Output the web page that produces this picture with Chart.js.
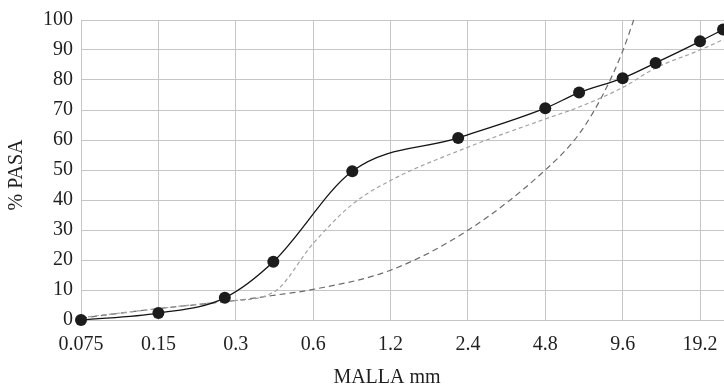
<!DOCTYPE html>
<html>
<head>
<meta charset="utf-8">
<script src="https://cdn.jsdelivr.net/npm/chart.js@4"></script>
<style>
    html, body { margin: 0; padding: 0; background: #fff; overflow: hidden; }
</style>
</head>
<body>
<canvas id="chart" width="724" height="390"></canvas>
<script>
// sieve sizes shown on the x axis (mm)
const sieveTicks = [0.075, 0.15, 0.3, 0.6, 1.2, 2.4, 4.8, 9.6, 19.2];
const sieveLabels = ['0.075', '0.15', '0.3', '0.6', '1.2', '2.4', '4.8', '9.6', '19.2'];

// measured grading (solid line with dots)
const sampleX = [0.075, 0.15, 0.272, 0.42, 0.852, 2.2, 4.8, 6.5, 9.6, 12.9, 19.2, 23.6];
const sampleY = [0, 2.3, 7.4, 19.4, 49.6, 60.7, 70.6, 75.8, 80.6, 85.7, 92.9, 96.8];

// light dashed curve
const upperX = [0.075, 0.15, 0.27, 0.42, 0.6, 0.85, 1.2, 2.4, 4.8, 6.5, 9.6, 12.9, 19.2, 23.8];
const upperY = [0.8, 3.8, 6.2, 9.2, 25.5, 38.5, 46.5, 57.6, 67, 71, 77.5, 84, 90, 93.6];

// dark dashed curve
const lowerX = [0.075, 0.15, 0.3, 0.42, 0.6, 1.2, 2.4, 4.8, 6.5, 8.1, 9.6, 10.6];
const lowerY = [0.6, 3.8, 6.5, 8.2, 10.2, 16.6, 29.9, 50, 62, 75.6, 89.6, 100];

const FONT = 'Liberation Serif, "Times New Roman", serif';
const GRID = '#c6c6c6';

function toPoints(xs, ys) {
    return xs.map((x, i) => ({ x, y: ys[i] }));
}

// axis titles, drawn as canvas text next to the plot
const axisTitles = {
    id: 'axisTitles',
    afterDraw(chart) {
        const { ctx, chartArea } = chart;
        ctx.save();
        ctx.fillStyle = '#1f1f1f';
        ctx.font = '20px ' + FONT;
        ctx.textAlign = 'center';
        ctx.textBaseline = 'middle';
        ctx.fillText('MALLA mm', chartArea.left + 306, chartArea.bottom + 58);
        ctx.translate(17, (chartArea.top + chartArea.bottom) / 2 + 5);
        ctx.rotate(-Math.PI / 2);
        ctx.fillText('% PASA', 0, 0);
        ctx.restore();
    },
};

new Chart(document.getElementById('chart'), {
    type: 'line',
    data: {
        datasets: [
            {
                data: toPoints(sampleX, sampleY),
                borderColor: '#141414',
                borderWidth: 1.3,
                pointRadius: 6,
                pointBackgroundColor: '#1c1c1c',
                pointBorderColor: '#1c1c1c',
                pointBorderWidth: 0,
                cubicInterpolationMode: 'monotone',
                clip: false,
            },
            {
                data: toPoints(upperX, upperY),
                borderColor: '#a2a2a2',
                borderWidth: 1.2,
                borderDash: [4, 3],
                pointRadius: 0,
                cubicInterpolationMode: 'monotone',
            },
            {
                data: toPoints(lowerX, lowerY),
                borderColor: '#6c6c6c',
                borderWidth: 1.2,
                borderDash: [6, 4],
                pointRadius: 0,
                cubicInterpolationMode: 'monotone',
            },
        ],
    },
    options: {
        responsive: false,
        animation: false,
        devicePixelRatio: 1,
        layout: { autoPadding: false, padding: { top: 19, right: 0, left: 0, bottom: 0 } },
        plugins: {
            legend: { display: false },
            tooltip: { enabled: false },
        },
        scales: {
            x: {
                type: 'logarithmic',
                min: 0.075,
                max: 23.8,
                afterBuildTicks: (s) => {
                    s.ticks = sieveTicks.map((v) => ({ value: v }));
                },
                afterFit: (s) => {
                    s.height = 70;
                    s.paddingLeft = 0;
                    s.paddingRight = 0;
                },
                ticks: {
                    autoSkip: false,
                    maxRotation: 0,
                    padding: 13,
                    color: '#1f1f1f',
                    font: { family: FONT, size: 20 },
                    callback: (v) => sieveLabels[sieveTicks.indexOf(v)] ?? '',
                },
                grid: { color: GRID, lineWidth: 1, drawTicks: false },
                border: { color: GRID, width: 1 },
            },
            y: {
                min: 0,
                max: 100,
                afterFit: (s) => {
                    s.width = 81;
                },
                ticks: {
                    stepSize: 10,
                    padding: 8,
                    color: '#1f1f1f',
                    font: { family: FONT, size: 20 },
                },
                grid: { color: GRID, lineWidth: 1, drawTicks: false },
                border: { color: GRID, width: 1 },
            },
        },
    },
    plugins: [axisTitles],
});
</script>
</body>
</html>
